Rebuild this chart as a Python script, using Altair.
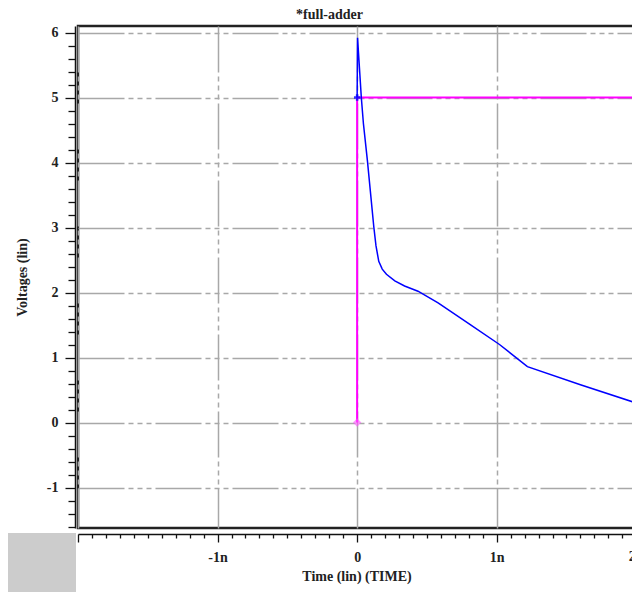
import altair as alt
import pandas as pd
import numpy as np

# ---- data (time in ns, voltage in V) ----
t_out = [0.0, 0.003, 0.03, 0.045, 0.074, 0.119, 0.135, 0.155, 0.18, 0.21, 0.27, 0.34, 0.436, 0.58, 0.80, 1.02, 1.22, 1.60, 2.0, 2.05]
v_out = [5.0, 5.92, 5.0, 4.6, 4.02, 3.02, 2.72, 2.48, 2.36, 2.28, 2.18, 2.1, 2.02, 1.84, 1.52, 1.2, 0.86, 0.58, 0.30, 0.27]
t_in = [0.0, 0.0, 2.05]
v_in = [0.0, 5.0, 5.0]
mark_in_t = [0.0]
mark_in_v = [0.0]
mark_out_t = [0.0]
mark_out_v = [5.0]

y_major = [-1, 0, 1, 2, 3, 4, 5, 6]
x_major = [-2, -1, 0, 1, 2]
x_labels = {-1: "-1n", 0: "0", 1: "1n", 2: "2n"}
edge_label_t = [2.0]
edge_label_txt = ["2n"]

y_ticks = [float(round(v, 1)) for v in np.arange(-1.6, 6.01, 0.2)]
x_ticks = [float(round(v, 1)) for v in np.arange(-2.0, 2.01, 0.1)]

out_df = pd.DataFrame({"t": t_out, "v": v_out, "i": range(len(t_out))})
in_df = pd.DataFrame({"t": t_in, "v": v_in, "i": range(len(t_in))})
m_in_df = pd.DataFrame({"t": mark_in_t, "v": mark_in_v})
m_out_df = pd.DataFrame({"t": mark_out_t, "v": mark_out_v})
edge_df = pd.DataFrame({"t": edge_label_t, "txt": edge_label_txt})
box_df = pd.DataFrame({"a": [0]})

FONT = "Liberation Serif"
is_int = "abs(datum.value - round(datum.value)) < 1e-6"
DASH = [46, 4, 5, 4, 5, 4, 5, 4]

x_label_expr = "(" + is_int + " && datum.value > -1.5) ? (" + " : ".join(
    [f"round(datum.value) == {k} ? '{v}'" for k, v in x_labels.items()]) + " : '') : ''"

xs = alt.Scale(domain=[-2, 1.991], nice=False, zero=False)
ys = alt.Scale(domain=[-1.623, 6.1], nice=False, zero=False)

xaxis = alt.Axis(
    values=x_ticks, tickCount=200, orient="bottom", offset=6,
    domain=True, domainColor="#111", domainWidth=1.5,
    ticks=True, tickColor="#111", tickWidth=1.3,
    tickSize={"condition": {"test": is_int, "value": 8}, "value": 4},
    labelExpr=x_label_expr, labelOverlap=False, labelFlush=False, labelBound=False,
    labelFont=FONT, labelFontWeight="bold", labelFontSize=14, labelColor="#222",
    labelPadding=8,
    grid=True, gridColor="#a8a8a8", gridWidth=1.5, gridDash=DASH,
    gridOpacity={"condition": {"test": is_int, "value": 1}, "value": 0},
    title="Time (lin) (TIME)", titleFont=FONT, titleFontWeight="bold",
    titleFontSize=14, titleColor="#222", titlePadding=5,
)
yaxis = alt.Axis(
    values=y_ticks, tickCount=200, orient="left", offset=3,
    domain=True, domainColor="#111", domainWidth=1.5,
    ticks=True, tickColor="#111", tickWidth=1.3,
    tickSize={"condition": {"test": is_int, "value": 10}, "value": 7},
    labelExpr=is_int + " ? toString(round(datum.value)) : ''",
    labelOverlap=False, labelFlush=False,
    labelFont=FONT, labelFontWeight="bold", labelFontSize=14, labelColor="#222",
    labelPadding=7,
    grid=True, gridColor="#a8a8a8", gridWidth=1.5, gridDash=DASH,
    gridOpacity={"condition": {"test": is_int, "value": 1}, "value": 0},
    title="Voltages (lin)", titleFont=FONT, titleFontWeight="bold",
    titleFontSize=14, titleColor="#222", titlePadding=17,
)

in_line = alt.Chart(in_df).mark_line(color="#ff00ff", strokeWidth=2, clip=True).encode(
    x=alt.X("t:Q", scale=xs, axis=xaxis),
    y=alt.Y("v:Q", scale=ys, axis=yaxis),
    order="i:Q",
)
out_line = alt.Chart(out_df).mark_line(color="#0000ff", strokeWidth=1.5, clip=True).encode(
    x=alt.X("t:Q", scale=xs),
    y=alt.Y("v:Q", scale=ys),
    order="i:Q",
)
in_mark = alt.Chart(m_in_df).mark_point(shape="diamond", filled=True, color="#ff55ff",
                                         opacity=0.6, size=70).encode(
    x=alt.X("t:Q", scale=xs), y=alt.Y("v:Q", scale=ys))
out_mark = alt.Chart(m_out_df).mark_point(shape="cross", filled=True, color="#0000ff",
                                          opacity=0.8, size=40).encode(
    x=alt.X("t:Q", scale=xs), y=alt.Y("v:Q", scale=ys))
edge_lbl = alt.Chart(edge_df).mark_text(font=FONT, fontWeight="bold", fontSize=14,
                                         color="#222", baseline="top", align="center").encode(
    x=alt.X("t:Q", scale=xs), y=alt.value(524), text="txt:N")
box = alt.Chart(box_df).mark_rect(color="#cccccc").encode(
    x=alt.value(-70), x2=alt.value(-2), y=alt.value(507), y2=alt.value(566))

chart = alt.layer(box, in_line, out_line, in_mark, out_mark, edge_lbl).properties(
    width=557, height=502,
    title=alt.TitleParams("*full-adder", font=FONT, fontWeight="bold", fontSize=14,
                          color="#222", anchor="middle", dx=-27, offset=4),
    autosize=alt.AutoSizeParams(type="none"),
    padding={"left": 70, "top": 18, "right": -3, "bottom": 64},
).configure_view(stroke="#222", strokeWidth=2.5)

chart.save("out.html", embed_options={"renderer": "svg", "actions": False})
